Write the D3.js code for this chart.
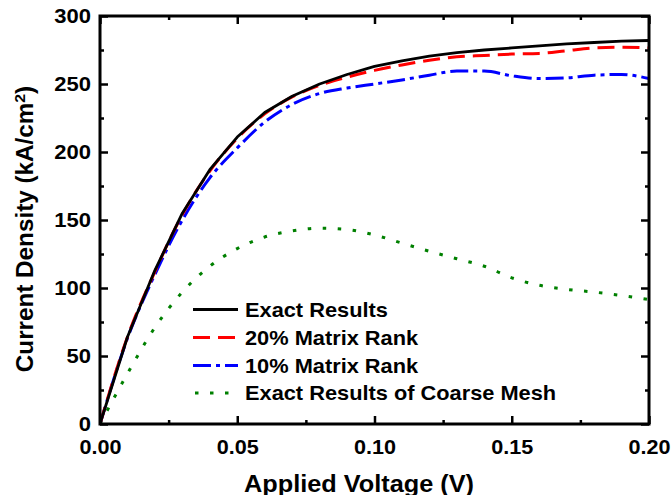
<!DOCTYPE html>
<html>
<head>
<meta charset="utf-8">
<script src="https://cdn.jsdelivr.net/npm/d3@7"></script>
<style>
  html, body { margin: 0; padding: 0; background: #fff; }
  svg { display: block; }
  text { font-family: "Liberation Sans", Arial, sans-serif; font-weight: bold; fill: #000; }
</style>
</head>
<body>
<svg id="chart" width="672" height="495"></svg>
<script>
// ---- data ----
const voltage = [0, 0.01, 0.02, 0.03, 0.04, 0.05, 0.06, 0.07, 0.08, 0.09, 0.10,
                 0.11, 0.12, 0.13, 0.14, 0.15, 0.16, 0.17, 0.18, 0.19, 0.20];
const exactResults = [0, 64, 113, 155, 187, 211, 229, 241, 250, 257, 263,
                      267, 270.5, 273, 275, 276.5, 278, 279.5, 280.5, 281.5, 282];
const rank20 = [0, 64, 112, 154, 186, 210, 228, 240.5, 249, 255, 260,
                264, 267.5, 270, 271, 272, 272.5, 274.5, 276.5, 277, 276.5];
const rank10 = [0, 63, 110, 150, 181, 203, 222, 235, 243, 247, 250,
                253, 256.5, 259.5, 259.5, 256, 254, 254.5, 256.5, 257, 254];
const coarseMesh = [0, 37, 71, 97, 116, 129, 137.5, 142, 144, 143, 139,
                    133, 127, 121.5, 116, 107.5, 102, 99, 97, 94.5, 91.5];
const seriesNames = ["Exact Results", "20% Matrix Rank", "10% Matrix Rank", "Exact Results of Coarse Mesh"];
const xTicks = [0, 0.05, 0.10, 0.15, 0.20];
const xTickLabels = ["0.00", "0.05", "0.10", "0.15", "0.20"];
const yTicks = [0, 50, 100, 150, 200, 250, 300];
const yTickLabels = ["0", "50", "100", "150", "200", "250", "300"];
const xMinor = [0.025, 0.075, 0.125, 0.175];
const yMinor = [25, 75, 125, 175, 225, 275];

// ---- layout ----
const svg = d3.select("#chart");
const x = d3.scaleLinear().domain([0, 0.2]).range([100, 649]);
const y = d3.scaleLinear().domain([0, 300]).range([424, 16]);

const styles = [
  { color: "#000000", dash: null, width: 2.8, curve: d3.curveLinear },
  { color: "#ff0000", dash: "17,8", width: 3, curve: d3.curveMonotoneX },
  { color: "#0000ff", dash: "18,5,4,5", width: 3, curve: d3.curveMonotoneX },
  { color: "#008000", dash: "3.5,11.5", width: 3, curve: d3.curveMonotoneX }
];
const allSeries = [exactResults, rank20, rank10, coarseMesh];

// horizontal stretch helper (reference text is slightly wide)
function stretch(sel, sx) {
  sel.each(function () {
    const t = d3.select(this);
    const x0 = +t.attr("x") || 0;
    const y0 = +t.attr("y") || 0;
    t.attr("transform", `translate(${x0},${y0}) scale(${sx},1) translate(${-x0},${-y0})`);
  });
}

// clip
svg.append("defs").append("clipPath").attr("id", "clip")
  .append("rect").attr("x", 100).attr("y", 16).attr("width", 549).attr("height", 408);

const plot = svg.append("g").attr("clip-path", "url(#clip)");
[3, 2, 1, 0].forEach(i => {
  const st = styles[i];
  const line = d3.line().x((d, k) => x(voltage[k])).y(d => y(d)).curve(st.curve);
  plot.append("path")
    .datum(allSeries[i])
    .attr("d", line)
    .attr("fill", "none")
    .attr("stroke", st.color)
    .attr("stroke-width", st.width)
    .attr("stroke-dasharray", st.dash)
    .attr("stroke-linejoin", "round");
});

// ---- axes ----
function styleAxis(g) {
  g.select(".domain").remove();
  g.selectAll(".tick line").attr("stroke", "#000").attr("stroke-width", 2.5);
  g.selectAll(".tick text")
    .style("font-size", "20px")
    .style("font-family", "'Liberation Sans', Arial, sans-serif")
    .style("font-weight", "bold");
}
const bottom = svg.append("g").attr("transform", "translate(0,424)")
  .call(d3.axisBottom(x).tickValues(xTicks).tickFormat((d, i) => xTickLabels[i]).tickSizeInner(-8).tickSizeOuter(0).tickPadding(16))
  .call(styleAxis);
stretch(bottom.selectAll(".tick text"), 1.08);
svg.append("g").attr("transform", "translate(0,424)")
  .call(d3.axisBottom(x).tickValues(xMinor).tickFormat("").tickSizeInner(-4).tickSizeOuter(0))
  .call(styleAxis);
svg.append("g").attr("transform", "translate(0,16)")
  .call(d3.axisTop(x).tickValues(xTicks).tickFormat("").tickSizeInner(-8).tickSizeOuter(0))
  .call(styleAxis);
svg.append("g").attr("transform", "translate(0,16)")
  .call(d3.axisTop(x).tickValues(xMinor).tickFormat("").tickSizeInner(-4).tickSizeOuter(0))
  .call(styleAxis);
const left = svg.append("g").attr("transform", "translate(100,0)")
  .call(d3.axisLeft(y).tickValues(yTicks).tickFormat((d, i) => yTickLabels[i]).tickSizeInner(-8).tickSizeOuter(0).tickPadding(9))
  .call(styleAxis);
stretch(left.selectAll(".tick text"), 1.1);
svg.append("g").attr("transform", "translate(100,0)")
  .call(d3.axisLeft(y).tickValues(yMinor).tickFormat("").tickSizeInner(-4).tickSizeOuter(0))
  .call(styleAxis);
svg.append("g").attr("transform", "translate(649,0)")
  .call(d3.axisRight(y).tickValues(yTicks).tickFormat("").tickSizeInner(-8).tickSizeOuter(0))
  .call(styleAxis);
svg.append("g").attr("transform", "translate(649,0)")
  .call(d3.axisRight(y).tickValues(yMinor).tickFormat("").tickSizeInner(-4).tickSizeOuter(0))
  .call(styleAxis);

// frame
svg.append("rect")
  .attr("x", x(0)).attr("y", y(300))
  .attr("width", x(0.2) - x(0)).attr("height", y(0) - y(300))
  .attr("fill", "none").attr("stroke", "#000").attr("stroke-width", 3);

// ---- axis titles ----
const xt = svg.append("text")
  .attr("x", 359).attr("y", 492)
  .attr("text-anchor", "middle")
  .style("font-size", "23px")
  .text("Applied Voltage (V)");
stretch(xt, 1.1);

const yt = svg.append("text")
  .attr("transform", "translate(33,229) rotate(-90) scale(1.055,1)")
  .attr("text-anchor", "middle")
  .style("font-size", "23px");
yt.append("tspan").text("Current Density (kA/cm");
yt.append("tspan").attr("baseline-shift", "super").style("font-size", "15px").text("2");
yt.append("tspan").text(")");

// ---- legend ----
const legend = svg.append("g");
const rowY = [309.5, 337.5, 365.5, 393];
seriesNames.forEach((name, i) => {
  const st = styles[i];
  legend.append("line")
    .attr("x1", 193).attr("x2", 238)
    .attr("y1", rowY[i]).attr("y2", rowY[i])
    .attr("stroke", st.color)
    .attr("stroke-width", st.width)
    .attr("stroke-dasharray", st.dash)
    .attr("stroke-dashoffset", i === 3 ? -2 : 0);
  const t = legend.append("text")
    .attr("x", 245).attr("y", rowY[i])
    .attr("dy", "0.36em")
    .style("font-size", "20px")
    .text(name);
  stretch(t, 1.09);
});
</script>
</body>
</html>
